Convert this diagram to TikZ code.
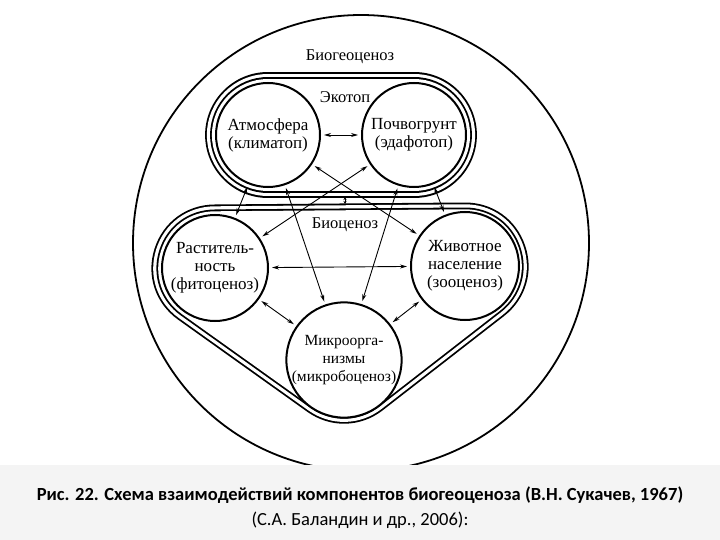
\documentclass[tikz,border=0pt]{standalone}
\usepackage{fontspec}
\setmainfont{Liberation Serif}
\newfontfamily\capfont{Carlito}
\usetikzlibrary{arrows.meta}
\begin{document}
\begin{tikzpicture}[x=1pt,y=-1pt,
  comp/.style={circle,draw,line width=2pt,minimum size=104pt,inner sep=0pt,align=center,font=\fontsize{17}{18}\selectfont,fill=white},
  lab/.style={font=\fontsize{16.5}{16.5}\selectfont},
  link/.style={line width=0.9pt,{Stealth[length=7pt,width=4pt]}-{Stealth[length=7pt,width=4pt]},shorten <=3pt,shorten >=3pt}]
\useasboundingbox (0,0) rectangle (720,540);
\fill[white] (0,0) rectangle (720,540);
% big circle
\draw[line width=1.8pt] (361,243) circle (228);
% biocenosis outline (rounded triangle, double line)
\coordinate (p1) at (215,268);
\coordinate (p2) at (465,266);
\coordinate (p3) at (344,360);
\draw[line width=127pt,line join=round] (p1)--(p2)--(p3)--cycle;
\draw[line width=123.4pt,line join=round,white] (p1)--(p2)--(p3)--cycle;
\draw[line width=117pt,line join=round] (p1)--(p2)--(p3)--cycle;
\draw[line width=113.4pt,line join=round,white,fill=white] (p1)--(p2)--(p3)--cycle;
% ecotope outline (stadium, double line)
\coordinate (e1) at (268,135);
\coordinate (e2) at (414,135);
\draw[line width=125.8pt,line cap=round] (e1)--(e2);
\draw[line width=122.2pt,line cap=round,white] (e1)--(e2);
\draw[line width=115.8pt,line cap=round] (e1)--(e2);
\draw[line width=112.2pt,line cap=round,white] (e1)--(e2);
% components
\node[comp] (A) at (268,135) {Атмосфера\\(климатоп)};
\node[comp] (S) at (414,135) {Почвогрунт\\(эдафотоп)};
\node[comp,minimum size=106pt] (P) at (215,268) {Раститель-\\ность\\(фитоценоз)};
\node[comp,minimum size=108pt] (Z) at (465,266) {Животное\\население\\(зооценоз)};
\node[comp,minimum size=108pt,font=\fontsize{15.5}{18}\selectfont] (M) at (344,360) {Микроорга-\\низмы\\(микробоценоз)};
% labels
\node[lab] (bgc) at (350,57) {Биогеоценоз};
\node[lab] (eco) at (345,97) {Экотоп};
\node[lab] (bio) at (345,225) {Биоценоз};
% small arrow between ecotope and biocenosis
\coordinate (t1) at (345,197);
\coordinate (t2) at (345,204);
\draw[line width=0.8pt,{Stealth[length=3pt,width=3pt]}-{Stealth[length=3pt,width=3pt]}] (t1)--(t2);
% links
\draw[link] (A)--(S);
\draw[link] (A)--(P);
\draw[link] (S)--(Z);
\draw[link] (A)--(Z);
\draw[link] (S)--(P);
\draw[link] (A)--(M);
\draw[link] (S)--(M);
\draw[link] (P)--(Z);
\draw[link] (P)--(M);
\draw[link] (Z)--(M);
% caption
\fill[gray!9] (0,465) rectangle (720,540);
\node[font=\capfont\bfseries\fontsize{18.5}{25}\selectfont,align=center] (cap) at (360,508) {Рис. 22. Схема взаимодействий компонентов биогеоценоза (В.Н. Сукачев, 1967)\\\mdseries(С.А. Баландин и др., 2006):};
\end{tikzpicture}
\end{document}
